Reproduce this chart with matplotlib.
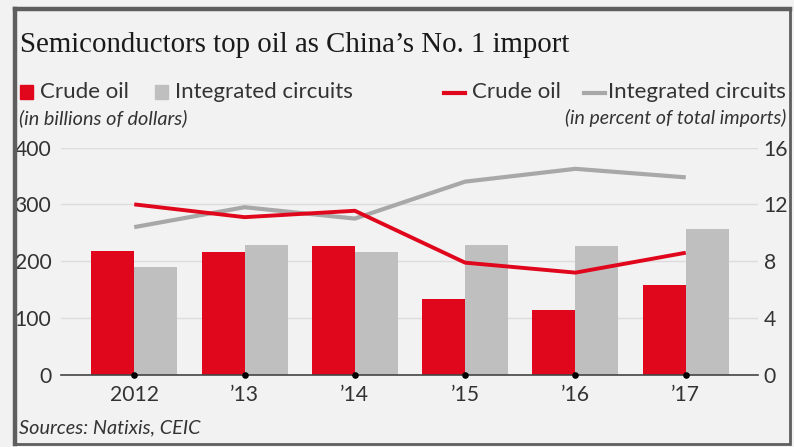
import matplotlib
matplotlib.use("Agg")
import matplotlib.pyplot as plt
from matplotlib.patches import Rectangle
from matplotlib.lines import Line2D

years = ["2012", "\u201913", "\u201914", "\u201915", "\u201916", "\u201917"]
oil_bn = [218, 217, 226, 133, 114, 159]
ic_bn = [190, 228, 216, 228, 227, 256]
oil_pct = [12.0, 11.1, 11.55, 7.9, 7.2, 8.6]
ic_pct = [10.4, 11.8, 11.0, 13.6, 14.5, 13.9]

RED = "#e0061b"
GRAY_BAR = "#c0bfc0"
GRAY_LINE = "#a8a8a8"
BG = "#f2f2f2"
TXT = "#333333"
SANS = "Lato"

W, H = 794, 447
fig = plt.figure(figsize=(W / 100, H / 100), dpi=100, facecolor=BG)

# frame
fig.add_artist(Rectangle((15 / W, 1 - 444 / H), 775 / W, 435 / H, transform=fig.transFigure,
                         fill=False, edgecolor="#5e5e5e", linewidth=2))
fig.add_artist(Line2D([14.7 / W, 14.7 / W], [1 - 444 / H, 1 - 8.5 / H], transform=fig.transFigure,
                      color="#5e5e5e", linewidth=3.2))
fig.add_artist(Line2D([14.7 / W, 790 / W], [1 - 8.7 / H, 1 - 8.7 / H], transform=fig.transFigure,
                      color="#5e5e5e", linewidth=3.2))

fig.text(20 / W, 1 - 45 / H, "Semiconductors top oil as China\u2019s No. 1 import",
         family="Liberation Serif", fontsize=20.8, color="#1a1a1a", va="center")

# legends
fig.add_artist(Rectangle((20 / W, 1 - 99 / H), 13 / W, 14 / H, transform=fig.transFigure, color=RED))
fig.text(40 / W, 1 - 92 / H, "Crude oil", family=SANS, fontsize=16, color=TXT, va="center")
fig.add_artist(Rectangle((155 / W, 1 - 99 / H), 13 / W, 14 / H, transform=fig.transFigure, color=GRAY_BAR))
fig.text(175 / W, 1 - 92 / H, "Integrated circuits", family=SANS, fontsize=16, color=TXT, va="center")
fig.text(19 / W, 1 - 118 / H, "(in billions of dollars)", family=SANS, style="italic",
         fontsize=14.3, color=TXT, va="center")

fig.add_artist(Line2D([444 / W, 465 / W], [1 - 93 / H, 1 - 93 / H], transform=fig.transFigure,
                      color=RED, linewidth=3))
fig.text(472 / W, 1 - 92 / H, "Crude oil", family=SANS, fontsize=16, color=TXT, va="center")
fig.add_artist(Line2D([584 / W, 605 / W], [1 - 93 / H, 1 - 93 / H], transform=fig.transFigure,
                      color=GRAY_LINE, linewidth=3))
fig.text(786 / W, 1 - 92 / H, "Integrated circuits", family=SANS, fontsize=16, color=TXT,
         va="center", ha="right")
fig.text(786 / W, 1 - 118 / H, "(in percent of total imports)", family=SANS, style="italic",
         fontsize=14, color=TXT, va="center", ha="right")

fig.text(19 / W, 1 - 428 / H, "Sources: Natixis, CEIC", family=SANS, style="italic",
         fontsize=14.3, color=TXT, va="center")

ax = fig.add_axes([61 / W, 1 - 375 / H, 697 / W, 227.5 / H])
ax.set_facecolor("none")
x = list(range(len(years)))
bw = 0.39
ax.bar([i - bw / 2 for i in x], oil_bn, width=bw, color=RED, zorder=2)
ax.bar([i + bw / 2 for i in x], ic_bn, width=bw, color=GRAY_BAR, zorder=2)
ax.set_xlim(-0.664, 5.655)
ax.set_ylim(0, 400)
ax.set_yticks([0, 100, 200, 300, 400])
ax.set_xticks(x)
ax.set_xticklabels(years)
ax.grid(axis="y", color="#dcdcdc", linewidth=1, zorder=0)
for s in ["top", "right", "left"]:
    ax.spines[s].set_visible(False)
ax.spines["bottom"].set_color("#444444")
ax.spines["bottom"].set_linewidth(1.2)
ax.spines["bottom"].set_zorder(4)
ax.tick_params(axis="y", length=0, pad=7, labelsize=15.2, labelcolor=TXT)
ax.tick_params(axis="x", length=0, pad=7, labelsize=15.2, labelcolor=TXT)
for lab in ax.get_xticklabels() + ax.get_yticklabels():
    lab.set_family(SANS)
ax.scatter(x, [0] * len(x), s=14, color="black", zorder=5, clip_on=False)

ax2 = ax.twinx()
ax2.set_ylim(0, 16)
ax2.set_yticks([0, 4, 8, 12, 16])
ax2.plot(x, ic_pct, color=GRAY_LINE, linewidth=3, zorder=3, solid_capstyle="butt")
ax2.plot(x, oil_pct, color=RED, linewidth=2.8, zorder=3, solid_capstyle="butt")
for s in ax2.spines.values():
    s.set_visible(False)
ax2.tick_params(axis="y", length=0, pad=4, labelsize=15.2, labelcolor=TXT)
for lab in ax2.get_yticklabels():
    lab.set_family(SANS)

fig.savefig("out.png", dpi=100, facecolor=BG)
